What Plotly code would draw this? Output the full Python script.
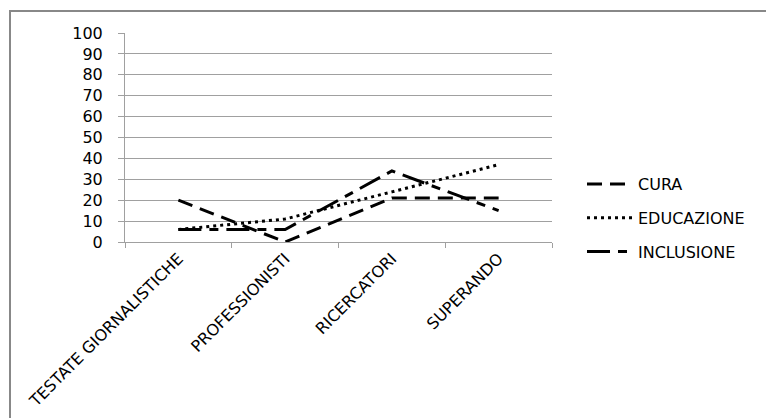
import plotly.graph_objects as go

categories = ["TESTATE GIORNALISTICHE", "PROFESSIONISTI", "RICERCATORI", "SUPERANDO"]
cura = [20, 0, 21, 21]
educazione = [6, 11, 24, 37]
inclusione = [6, 6, 34, 15]

W, H = 774, 418
OFF = 8  # page body margin
L, R, T, B = 125 - OFF, 552 - OFF, 33 - OFF, 242 - OFF

fig = go.Figure()
series = [
    ("CURA", cura, "15px,8px"),
    ("EDUCAZIONE", educazione, "3px,4px"),
    ("INCLUSIONE", inclusione, "23px,8px,9px,8px"),
]
for i, (name, vals, dash) in enumerate(series):
    fig.add_trace(go.Scatter(
        x=categories, y=vals, name=name, mode="lines",
        line=dict(color="black", width=3, dash=dash),
        legendgroup=f"g{i}",
    ))

def px_x(px):
    return (px - OFF - L) / (R - L)

def px_y(py):
    return (B - (py - OFF)) / (B - T)

fig.add_shape(type="rect", xref="paper", yref="paper",
              x0=px_x(10), x1=px_x(800), y0=px_y(450), y1=px_y(11),
              line=dict(color="#888888", width=2), layer="below")

fig.update_layout(
    width=W, height=H,
    margin=dict(l=L, r=W - R, t=T, b=H - B, pad=0, autoexpand=False),
    paper_bgcolor="white", plot_bgcolor="white",
    font=dict(family="DejaVu Sans, sans-serif", size=16, color="black"),
    showlegend=True,
    legend=dict(x=px_x(582), xanchor="left", y=px_y(167), yanchor="top",
                traceorder="grouped", tracegroupgap=10, itemwidth=46,
                font=dict(size=16), bgcolor="rgba(0,0,0,0)"),
    xaxis=dict(type="category", range=[-0.5, 3.5], showgrid=False,
               showline=True, linecolor="#a0a0a0", linewidth=1,
               ticks="outside", ticklen=5, tickcolor="#a0a0a0",
               tickson="boundaries", tickangle=-45, automargin=False,
               tickfont=dict(size=16), zeroline=False),
    yaxis=dict(range=[0, 100], dtick=10, showgrid=True, gridcolor="#a0a0a0",
               gridwidth=1, showline=True, linecolor="#a0a0a0", linewidth=1,
               ticks="outside", ticklen=6, tickcolor="#a0a0a0", automargin=False,
               ticklabelstandoff=12,
               tickfont=dict(size=16), zeroline=False),
)

fig.write_html("out.html")
